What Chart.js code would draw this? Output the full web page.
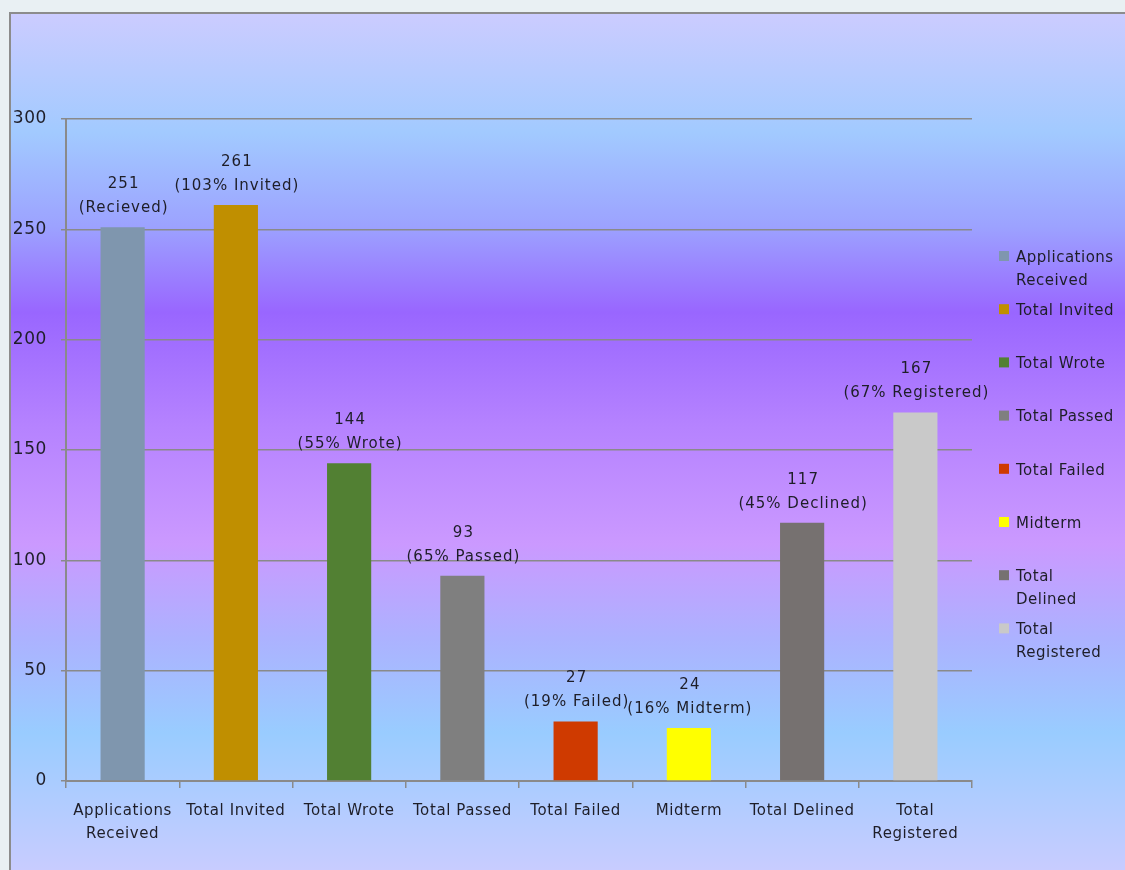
<!DOCTYPE html>
<html>
<head>
<meta charset="utf-8">
<script src="https://cdn.jsdelivr.net/npm/chart.js@4"></script>
<style>
  html, body { margin: 0; padding: 0; overflow: hidden; background: #e9f0f3; }
  canvas { display: block; }
</style>
</head>
<body>
<canvas id="c" width="1125" height="870"></canvas>
<script>
// Recruitment funnel: counts per stage
const categories = [
  ['Applications', 'Received'],
  'Total Invited',
  'Total Wrote',
  'Total Passed',
  'Total Failed',
  'Midterm',
  'Total Delined',
  ['Total', 'Registered']
];
const counts = [251, 261, 144, 93, 27, 24, 117, 167];
const notes = [
  '(Recieved)',
  '(103% Invited)',
  '(55% Wrote)',
  '(65% Passed)',
  '(19% Failed)',
  '(16% Midterm)',
  '(45% Declined)',
  '(67% Registered)'
];
const legendLabels = [
  ['Applications', 'Received'],
  ['Total Invited'],
  ['Total Wrote'],
  ['Total Passed'],
  ['Total Failed'],
  ['Midterm'],
  ['Total', 'Delined'],
  ['Total', 'Registered']
];
const yTicks = [0, 50, 100, 150, 200, 250, 300];

const barColors = ['#7f96ae', '#c08f00', '#528033', '#7f7f7f', '#cf3a00', '#ffff00', '#767170', '#c9c9c9'];
const FONT = '"DejaVu Sans", sans-serif';
const TEXT = '#1e1e28';

// Page backdrop, framed panel with vertical colour wash
const backdrop = {
  id: 'backdrop',
  beforeDraw(chart) {
    const { ctx, width, height } = chart;
    ctx.save();
    ctx.fillStyle = '#e9f0f3';
    ctx.fillRect(0, 0, width, height);
    const g = ctx.createLinearGradient(0, 12, 0, height);
    g.addColorStop(0.00, '#ccccff');
    g.addColorStop(0.14, '#a2caff');
    g.addColorStop(0.25, '#9ca2ff');
    g.addColorStop(0.35, '#9966ff');
    g.addColorStop(0.48, '#b582ff');
    g.addColorStop(0.62, '#cb99ff');
    g.addColorStop(0.73, '#acb2ff');
    g.addColorStop(0.84, '#99ccff');
    g.addColorStop(1.00, '#c8ccff');
    ctx.fillStyle = g;
    ctx.fillRect(9, 12, width - 9, height - 12);
    ctx.strokeStyle = '#8c8c8c';
    ctx.lineWidth = 2;
    ctx.beginPath();
    ctx.moveTo(10, height);
    ctx.lineTo(10, 13);
    ctx.lineTo(width + 5, 13);
    ctx.stroke();
    ctx.restore();
    // slightly open tracking for all axis text
    ctx.letterSpacing = '0.6px';
  }
};

// Two-line value labels above every bar
const valueLabels = {
  id: 'valueLabels',
  afterDatasetsDraw(chart) {
    const { ctx } = chart;
    const meta = chart.getDatasetMeta(0);
    ctx.save();
    ctx.letterSpacing = '1px';
    ctx.font = '15px ' + FONT;
    ctx.fillStyle = TEXT;
    ctx.textAlign = 'center';
    ctx.textBaseline = 'middle';
    meta.data.forEach((bar, i) => {
      const v = chart.data.datasets[0].data[i];
      ctx.fillText(String(v), bar.x + 1, bar.y - 43);
      ctx.fillText(notes[i], bar.x + 1, bar.y - 19);
    });
    ctx.restore();
  }
};

// Legend at the right, one swatch per stage
const sideLegend = {
  id: 'sideLegend',
  afterDraw(chart) {
    const { ctx } = chart;
    const colors = chart.data.datasets[0].backgroundColor;
    ctx.save();
    ctx.letterSpacing = '0.5px';
    ctx.font = '15px ' + FONT;
    ctx.textAlign = 'left';
    ctx.textBaseline = 'middle';
    const x0 = 999, top = 258, step = 53.2;
    legendLabels.forEach((lines, i) => {
      const y = top + i * step;
      ctx.fillStyle = colors[i];
      ctx.fillRect(x0, y - 7, 10, 10);
      ctx.fillStyle = TEXT;
      lines.forEach((t, k) => ctx.fillText(t, x0 + 17, y + k * 23));
    });
    ctx.restore();
  }
};

new Chart(document.getElementById('c'), {
  type: 'bar',
  data: {
    labels: categories,
    datasets: [{
      data: counts,
      backgroundColor: barColors,
      borderWidth: 0,
      barPercentage: 0.39,
      categoryPercentage: 1.0
    }]
  },
  options: {
    responsive: false,
    animation: false,
    devicePixelRatio: 1,
    layout: { padding: { left: 0, right: 153, top: 119, bottom: 0 } },
    plugins: {
      legend: { display: false },
      tooltip: { enabled: false }
    },
    scales: {
      y: {
        min: 0,
        max: 300,
        afterFit(scale) { scale.width = 66; },
        afterBuildTicks(scale) { scale.ticks = yTicks.map(v => ({ value: v })); },
        border: { display: true, color: '#8a8a8a', width: 2 },
        grid: { color: '#8a8a8a', lineWidth: 1.5, tickLength: 5, drawTicks: true },
        ticks: {
          color: TEXT,
          font: { family: FONT, size: 17 },
          padding: 14
        }
      },
      x: {
        afterFit(scale) { scale.height = 89; },
        border: { display: true, color: '#8a8a8a', width: 2 },
        grid: { offset: true, drawOnChartArea: false, drawTicks: true, tickLength: 7, color: '#8a8a8a', lineWidth: 1.5 },
        ticks: {
          color: TEXT,
          font: { family: FONT, size: 15, lineHeight: 1.5 },
          padding: 12,
          maxRotation: 0,
          autoSkip: false
        }
      }
    }
  },
  plugins: [backdrop, valueLabels, sideLegend]
});
</script>
</body>
</html>
